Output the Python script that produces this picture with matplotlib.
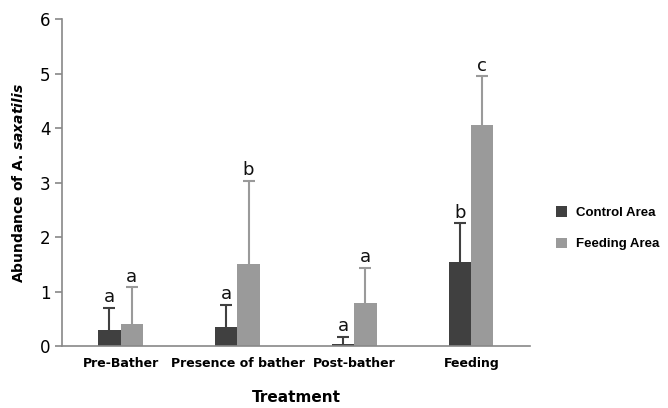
import matplotlib
matplotlib.use("Agg")
import matplotlib.pyplot as plt
import numpy as np

categories = ["Pre-Bather", "Presence of bather", "Post-bather", "Feeding"]
control_vals = [0.30, 0.34, 0.03, 1.55]
control_err = [0.40, 0.41, 0.14, 0.70]
feeding_vals = [0.40, 1.50, 0.78, 4.05]
feeding_err = [0.68, 1.53, 0.65, 0.90]
control_letters = ["a", "a", "a", "b"]
feeding_letters = ["a", "b", "a", "c"]
series_names = ["Control Area", "Feeding Area"]

plt.rcParams['mathtext.fontset'] = 'custom'
plt.rcParams['mathtext.it'] = 'DejaVu Sans:bold:italic'

dark = "#404040"
light = "#9a9a9a"

fig = plt.figure(figsize=(6.68, 4.08), dpi=100)
ax = fig.add_axes([0.093, 0.152, 0.7, 0.801])

x = np.arange(len(categories))
w = 0.19
ax.bar(x - w/2, control_vals, w, color=dark, label=series_names[0], zorder=2)
ax.bar(x + w/2, feeding_vals, w, color=light, label=series_names[1], zorder=2)

for xs, vals, errs, col in [(x - w/2, control_vals, control_err, dark),
                            (x + w/2, feeding_vals, feeding_err, light)]:
    tops = np.array(vals) + np.array(errs)
    ax.vlines(xs, vals, tops, colors=col, linewidth=1.5, zorder=3)
    ax.plot(xs, tops, linestyle='none', marker='_', markersize=8,
            markeredgewidth=1.5, color=col, zorder=3)

for i in range(len(categories)):
    ax.text(x[i] - w/2, control_vals[i] + control_err[i] + 0.03, control_letters[i],
            ha='center', va='bottom', fontsize=13, color='#111111')
    ax.text(x[i] + w/2, feeding_vals[i] + feeding_err[i] + 0.03, feeding_letters[i],
            ha='center', va='bottom', fontsize=13, color='#111111')

ax.set_xlim(-0.5, 3.5)
ax.set_ylim(0, 6)
ax.set_yticks(range(7))
ax.tick_params(axis='y', labelsize=12, length=5, color='#888888', width=1.2)
ax.set_xticks(x)
ax.set_xticklabels(categories, fontsize=9, fontweight='bold')
ax.tick_params(axis='x', length=0, pad=8)
for s in ['top', 'right']:
    ax.spines[s].set_visible(False)
for s in ['left', 'bottom']:
    ax.spines[s].set_color('#888888')
    ax.spines[s].set_linewidth(1.2)

ax.set_xlabel("Treatment", fontsize=11, fontweight='bold', labelpad=14)
ax.set_ylabel(r"Abundance of A. $\mathit{saxatilis}$", fontsize=10, fontweight='bold', labelpad=10)

leg = ax.legend(loc='center left', bbox_to_anchor=(1.05, 0.36), frameon=False,
                prop={'weight': 'bold', 'size': 9.5, 'family': 'Liberation Sans'},
                handlelength=0.85, handleheight=0.85,
                labelspacing=1.4, handletextpad=0.7, borderaxespad=0.0, borderpad=0.2)

fig.savefig("out.png", dpi=100, facecolor='white')
